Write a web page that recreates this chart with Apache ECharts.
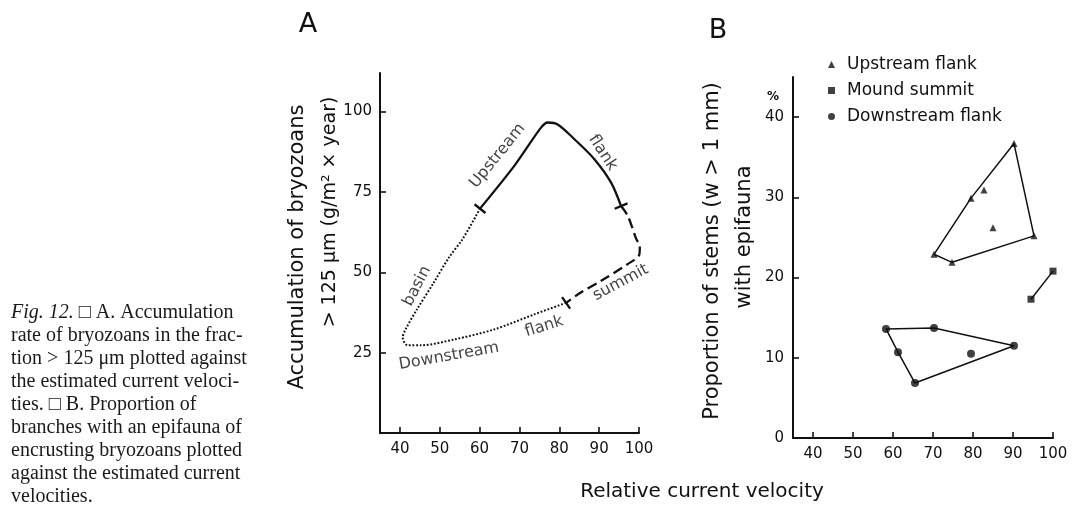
<!DOCTYPE html>
<html>
<head>
<meta charset="utf-8">
<script src="https://cdn.jsdelivr.net/npm/echarts@6/dist/echarts.min.js"></script>
<style>
  html, body { margin: 0; padding: 0; background: #fff; }
  #chart { width: 1074px; height: 507px; }
</style>
</head>
<body>
<div id="chart"></div>
<script>
// ---- tick values ----
const velocityTicks = [40, 50, 60, 70, 80, 90, 100];
const accumulationTicks = [25, 50, 75, 100];
const epifaunaTicks = [0, 10, 20, 30, 40];

// ---- Panel A: accumulation rate vs. relative current velocity ----
// [relative velocity, accumulation g/m²·year]
const upstreamFlank = [[60.1, 69.8], [68.7, 83.1], [75.4, 95.0], [77.1, 96.6], [79.6, 96.0],
                       [83.8, 91.4], [88.8, 85.2], [93.0, 77.9], [95.5, 70.6]];
const summitSegment = [[95.5, 70.6], [97.2, 67.5], [99.3, 60.4], [100.2, 58.2], [100.1, 55.6],
                       [97.1, 52.5], [90.4, 47.3], [85.4, 43.7], [81.7, 40.5]];
const downstreamFlank = [[81.7, 40.5], [73.7, 36.9], [63.6, 32.2], [53.6, 29.1], [45.3, 27.3], [41.9, 27.3]];
const basinSegment = [[41.9, 27.3], [40.7, 29.7], [41.4, 32.2], [44.3, 38.5], [48.5, 46.8],
                      [52.3, 54.6], [55.7, 60.3], [60.1, 69.8]];
const curveLabelText = ['Upstream', 'flank', 'basin', 'Downstream', 'flank', 'summit'];
const curveLabelAt = [[64.5, 86.2], [90.9, 87.2], [44.3, 45.7], [52.3, 23.9], [76.2, 33.1], [95.4, 46.8]];

// ---- Panel B: proportion of stems with epifauna (%) ----
const upstreamPts = [[90.25, 36.7], [82.75, 30.9], [79.5, 29.9], [85, 26.2], [95.25, 25.2], [70.25, 22.9], [74.75, 21.9]];
const summitPts = [[94.5, 17.3], [100, 20.8]];
const downstreamPts = [[58.25, 13.6], [70.25, 13.7], [61.25, 10.7], [65.5, 6.85], [79.5, 10.5], [90.25, 11.5]];
const upstreamHull = [5, 2, 0, 4, 6, 5];
const downstreamHull = [0, 1, 5, 3, 2, 0];

const captionLines = [
  '{i|Fig. 12.} □ A. Accumulation',
  'rate of bryozoans in the frac-',
  'tion > 125 μm plotted against',
  'the estimated current veloci-',
  'ties. □ B. Proportion of',
  'branches with an epifauna of',
  'encrusting bryozoans plotted',
  'against the estimated current',
  'velocities.'
];

// ---- styling ----
const INK = '#111';
const FONT = '"DejaVu Sans", sans-serif';
const labelRotation = [51, -57, 63, 10, 17, 28];

// segment boundaries: each point with its neighbour along the curve
const last = a => a[a.length - 1];
const prev = a => a[a.length - 2];
const segmentBreaks = [
  upstreamFlank[0].concat(upstreamFlank[1]),
  last(upstreamFlank).concat(prev(upstreamFlank)),
  last(summitSegment).concat(prev(summitSegment))
];

function axisPair(grid, min, max, ticks, margin) {
  return {
    gridIndex: grid, type: 'value', min: min, max: max,
    axisLine: { show: true, onZero: false, lineStyle: { color: INK, width: 2 } },
    axisTick: { show: true, inside: true, length: 6, customValues: ticks, lineStyle: { color: INK, width: 1.6 } },
    axisLabel: { customValues: ticks, color: INK, fontFamily: FONT, fontSize: 15, margin: margin },
    splitLine: { show: false }
  };
}

const chart = echarts.init(document.getElementById('chart'), null, { renderer: 'canvas' });

const option = {
  backgroundColor: '#fff',
  animation: false,
  textStyle: { fontFamily: FONT },
  grid: [
    { left: 380, right: 435, top: 73, bottom: 74 },
    { left: 793, right: 21, top: 77, bottom: 69 }
  ],
  xAxis: [
    axisPair(0, 35, 100, velocityTicks, 9),
    axisPair(1, 35, 100, velocityTicks, 9)
  ],
  yAxis: [
    axisPair(0, 0, 112, accumulationTicks, 8),
    axisPair(1, 0, 45, epifaunaTicks, 9)
  ],
  legend: {
    data: ['Upstream flank', 'Mound summit', 'Downstream flank'],
    orient: 'vertical', left: 828, top: 56, padding: 0,
    itemWidth: 7, itemHeight: 7, itemGap: 9,
    textStyle: { color: INK, fontFamily: FONT, fontSize: 17, lineHeight: 17, padding: [0, 0, 0, 7] }
  },
  series: [
    // Panel A curve
    { type: 'line', name: 'upstream', xAxisIndex: 0, yAxisIndex: 0, data: upstreamFlank,
      symbol: 'none', smooth: 0.3, clip: false, silent: true,
      lineStyle: { color: INK, width: 2.3 } },
    { type: 'line', name: 'summit', xAxisIndex: 0, yAxisIndex: 0, data: summitSegment,
      symbol: 'none', smooth: 0.3, clip: false, silent: true,
      lineStyle: { color: INK, width: 2.3, type: [10, 5] } },
    { type: 'line', name: 'downstream-basin', xAxisIndex: 0, yAxisIndex: 0,
      data: downstreamFlank.concat(basinSegment.slice(1)),
      symbol: 'none', smooth: 0.3, clip: false, silent: true,
      lineStyle: { color: INK, width: 2, type: [1.8, 1.8] } },
    { type: 'custom', name: 'breaks', xAxisIndex: 0, yAxisIndex: 0, data: segmentBreaks,
      encode: { x: 0, y: 1 }, silent: true,
      renderItem: function (params, api) {
        const p = api.coord([api.value(0), api.value(1)]);
        const q = api.coord([api.value(2), api.value(3)]);
        let dx = q[0] - p[0], dy = q[1] - p[1];
        const len = Math.hypot(dx, dy) || 1;
        dx /= len; dy /= len;
        const h = 7;
        return {
          type: 'line',
          shape: { x1: p[0] - dy * h, y1: p[1] + dx * h, x2: p[0] + dy * h, y2: p[1] - dx * h },
          style: { stroke: INK, lineWidth: 2.3 }
        };
      } },
    { type: 'scatter', name: 'curve labels', xAxisIndex: 0, yAxisIndex: 0, symbolSize: 0, silent: true,
      data: curveLabelText.map((t, i) => ({
        name: t, value: curveLabelAt[i],
        label: { rotate: labelRotation[i] }
      })),
      label: { show: true, position: 'inside', formatter: '{b}', color: INK, fontFamily: FONT, fontSize: 16 } },

    // Panel B hulls
    { type: 'line', name: 'upstream hull', xAxisIndex: 1, yAxisIndex: 1,
      data: upstreamHull.map(i => upstreamPts[i]), symbol: 'none', silent: true,
      lineStyle: { color: INK, width: 1.5 } },
    { type: 'line', name: 'summit link', xAxisIndex: 1, yAxisIndex: 1,
      data: summitPts, symbol: 'none', silent: true, clip: false,
      lineStyle: { color: INK, width: 1.5 } },
    { type: 'line', name: 'downstream hull', xAxisIndex: 1, yAxisIndex: 1,
      data: downstreamHull.map(i => downstreamPts[i]), symbol: 'none', silent: true,
      lineStyle: { color: INK, width: 1.5 } },

    // Panel B points
    { type: 'scatter', name: 'Upstream flank', xAxisIndex: 1, yAxisIndex: 1, data: upstreamPts,
      symbol: 'triangle', symbolSize: 7, clip: false, itemStyle: { color: INK } },
    { type: 'scatter', name: 'Mound summit', xAxisIndex: 1, yAxisIndex: 1, data: summitPts,
      symbol: 'rect', symbolSize: 7, clip: false, itemStyle: { color: INK } },
    { type: 'scatter', name: 'Downstream flank', xAxisIndex: 1, yAxisIndex: 1, data: downstreamPts,
      symbol: 'circle', symbolSize: 8, clip: false, itemStyle: { color: INK } }
  ],
  graphic: [
    { type: 'text', x: 308, y: 25, style: { text: 'A', font: '27px ' + FONT, fill: INK, align: 'center', verticalAlign: 'middle' } },
    { type: 'text', x: 718, y: 31, style: { text: 'B', font: '27px ' + FONT, fill: INK, align: 'center', verticalAlign: 'middle' } },
    { type: 'text', x: 773, y: 97, style: { text: '%', font: 'bold 12px ' + FONT, fill: INK, align: 'center', verticalAlign: 'middle' } },
    { type: 'text', x: 298, y: 247, rotation: Math.PI / 2,
      style: { text: 'Accumulation of bryozoans', font: '21px ' + FONT, fill: INK, align: 'center', verticalAlign: 'middle' } },
    { type: 'text', x: 330, y: 212, rotation: Math.PI / 2,
      style: { text: '> 125 μm (g/m² × year)', font: '19px ' + FONT, fill: INK, align: 'center', verticalAlign: 'middle' } },
    { type: 'text', x: 713, y: 251, rotation: Math.PI / 2,
      style: { text: 'Proportion of stems (w > 1 mm)', font: '21px ' + FONT, fill: INK, align: 'center', verticalAlign: 'middle' } },
    { type: 'text', x: 745, y: 237, rotation: Math.PI / 2,
      style: { text: 'with epifauna', font: '21px ' + FONT, fill: INK, align: 'center', verticalAlign: 'middle' } },
    { type: 'text', x: 702, y: 492,
      style: { text: 'Relative current velocity', font: '20px ' + FONT, fill: INK, align: 'center', verticalAlign: 'middle' } },
    { type: 'text', x: 11, y: 301,
      style: {
        text: captionLines.join('\n'),
        fontFamily: '"Liberation Serif", serif', fontSize: 20, lineHeight: 23,
        fill: '#1a1a1a', align: 'left', verticalAlign: 'top',
        rich: { i: { fontFamily: '"Liberation Serif", serif', fontSize: 20, fontStyle: 'italic', lineHeight: 23, fill: '#1a1a1a' } }
      } }
  ]
};

chart.setOption(option);
</script>
</body>
</html>
